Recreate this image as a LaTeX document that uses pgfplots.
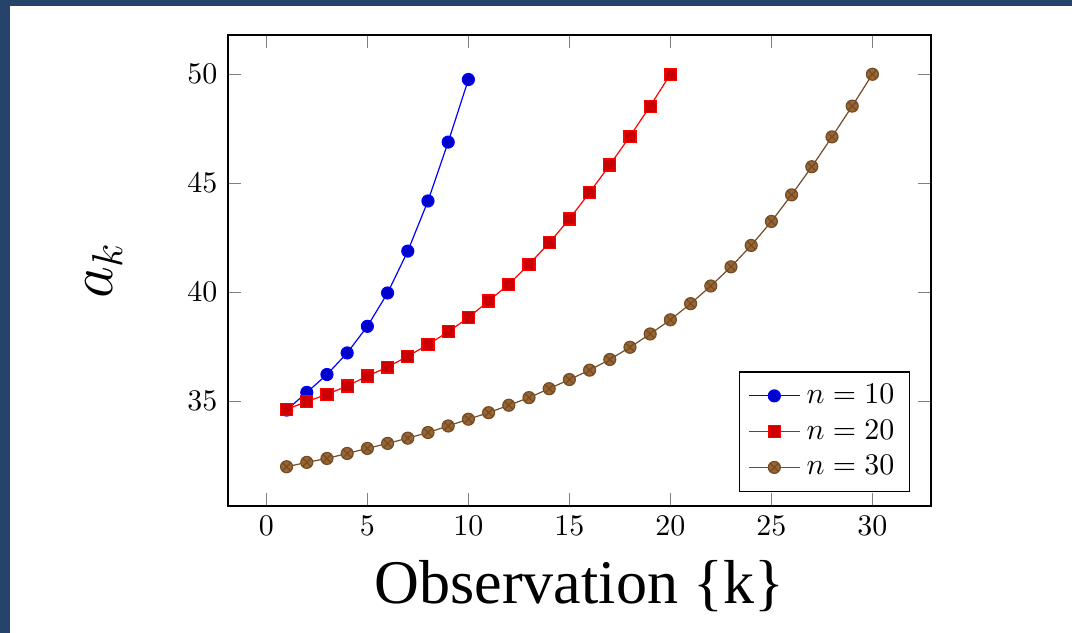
\documentclass[border=0pt]{standalone}
\usepackage{fontspec}
\usepackage{pgfplots}
\pgfplotsset{compat=1.18}
\newfontfamily\timesfont{Liberation Serif}
\definecolor{framecol}{HTML}{26446B}
\begin{document}
\begin{tikzpicture}[x=0.334pt,y=0.334pt]
\useasboundingbox (0,0) rectangle (1072,633);
\fill[white] (0,0) rectangle (1072,633);
\fill[framecol] (0,627) rectangle (1072,633);
\fill[framecol] (0,0) rectangle (10,633);
\begin{axis}[
  at={(76.15pt,42.42pt)}, anchor=south west,
  scale only axis, width=234.8pt, height=157.3pt,
  xlabel={\huge\timesfont Observation \{k\}},
  ylabel={\huge $a_k$},
  xlabel shift=1.5pt,
  ylabel shift=15pt,
  legend pos=south east,
  legend cell align=left,
]
\addplot coordinates {
  (1,34.60) (2,35.41) (3,36.23) (4,37.22) (5,38.44)
  (6,39.97) (7,41.89) (8,44.19) (9,46.89) (10,49.76)};
\addlegendentry{$n=10$}
\addplot coordinates {
  (1,34.63) (2,34.99) (3,35.32) (4,35.70) (5,36.16)
  (6,36.57) (7,37.07) (8,37.60) (9,38.19) (10,38.84)
  (11,39.60) (12,40.37) (13,41.28) (14,42.27) (15,43.36)
  (16,44.58) (17,45.84) (18,47.16) (19,48.54) (20,50.00)};
\addlegendentry{$n=20$}
\addplot coordinates {
  (1,32.00) (2,32.20) (3,32.38) (4,32.61) (5,32.84)
  (6,33.07) (7,33.31) (8,33.57) (9,33.87) (10,34.18)
  (11,34.48) (12,34.82) (13,35.17) (14,35.58) (15,36.00)
  (16,36.43) (17,36.92) (18,37.48) (19,38.09) (20,38.74)
  (21,39.48) (22,40.29) (23,41.17) (24,42.15) (25,43.25)
  (26,44.47) (27,45.76) (28,47.13) (29,48.54) (30,50.00)};
\addlegendentry{$n=30$}
\end{axis}
\end{tikzpicture}
\end{document}
